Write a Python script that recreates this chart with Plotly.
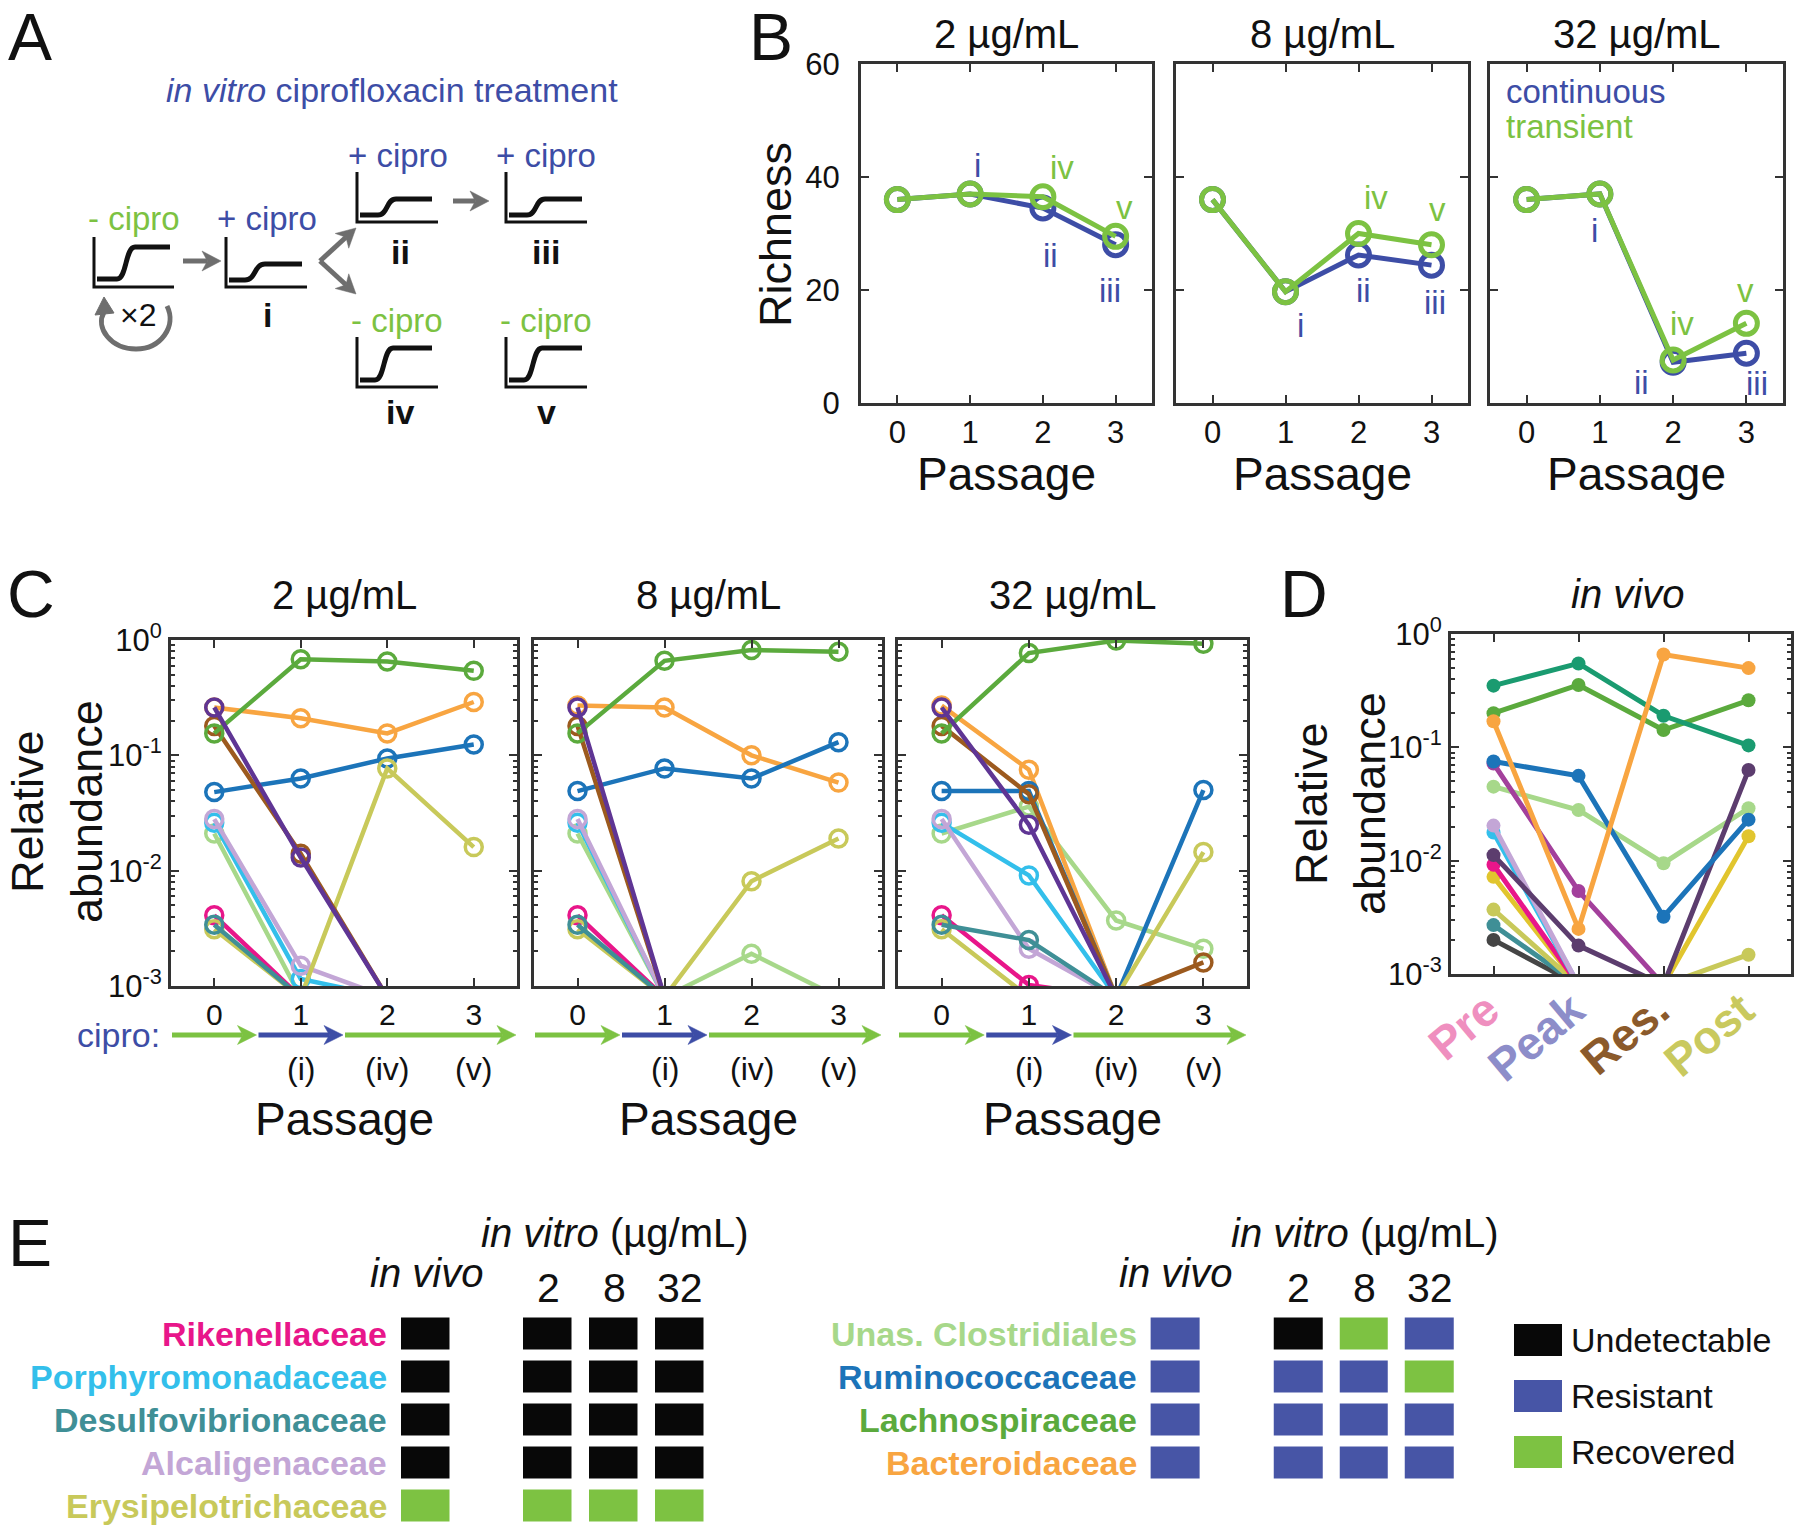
import math
import plotly.graph_objects as go

W, H = 1800, 1534
FONT = "Liberation Sans, Arial, Helvetica, sans-serif"
INK = "#111111"
FRAME = "#333333"


def fx(px):
    return px / W


def fy(py):
    return 1 - py / H


# ========================= DATA =========================
passages = [0, 1, 2, 3]
passage_labels = ["0", "1", "2", "3"]
concentrations = ["2 µg/mL", "8 µg/mL", "32 µg/mL"]

# Panel B: richness
rich_cont_2 = [36, 37, 34.5, 28]
rich_trans_2 = [36, 37, 36.5, 29.5]
rich_cont_8 = [36, 19.7, 26.2, 24.4]
rich_trans_8 = [36, 19.7, 30, 28]
rich_cont_32 = [36, 37, 7.2, 8.8]
rich_trans_32 = [36, 37, 7.6, 14.1]
richness_ticks = [0, 20, 40, 60]

# Panel C: relative abundance in vitro (ND = undetectable, below 10^-3 floor)
ND = 8e-4
taxa_C = ["Unas. Clostridiales", "Porphyromonadaceae", "Alcaligenaceae", "Rikenellaceae",
          "Bacteroidaceae", "Ruminococcaceae", "Erysipelotrichaceae", "Desulfovibrionaceae",
          "Unlabeled (brown)", "Lachnospiraceae", "Unlabeled (purple)"]
abund_2 = [
    [0.021, ND, ND, ND],
    [0.026, 0.00115, ND, ND],
    [0.028, 0.0015, ND, ND],
    [0.0041, ND, ND, ND],
    [0.26, 0.21, 0.155, 0.29],
    [0.048, 0.063, 0.094, 0.124],
    [0.0031, ND, 0.077, 0.016],
    [0.0034, ND, ND, ND],
    [0.18, 0.014, ND, ND],
    [0.155, 0.68, 0.65, 0.54],
    [0.26, 0.013, ND, ND],
]
abund_8 = [
    [0.021, ND, 0.0019, ND],
    [0.026, ND, ND, ND],
    [0.028, ND, ND, ND],
    [0.0041, ND, ND, ND],
    [0.27, 0.26, 0.10, 0.058],
    [0.049, 0.077, 0.063, 0.13],
    [0.0031, ND, 0.0081, 0.019],
    [0.0034, ND, ND, ND],
    [0.18, ND, ND, ND],
    [0.155, 0.66, 0.82, 0.79],
    [0.26, ND, ND, ND],
]
abund_32 = [
    [0.021, 0.036, 0.0037, 0.0021],
    [0.026, 0.0091, ND, ND],
    [0.028, 0.0021, ND, ND],
    [0.0041, 0.00102, ND, ND],
    [0.27, 0.075, ND, ND],
    [0.049, 0.049, ND, 0.05],
    [0.0031, ND, ND, 0.0145],
    [0.0034, 0.0025, ND, ND],
    [0.18, 0.046, ND, 0.0016],
    [0.155, 0.77, 0.99, 0.93],
    [0.26, 0.025, ND, ND],
]
cipro_segments = [(-0.5, 0.5, False), (0.5, 1.5, True), (1.5, 3.5, False)]
sample_roman = {1: "(i)", 2: "(iv)", 3: "(v)"}

# Panel D: in vivo
timepoints = ["Pre", "Peak", "Res.", "Post"]
taxa_D = ["Unlabeled (gray)", "Desulfovibrionaceae", "Erysipelotrichaceae", "Unlabeled (yellow)",
          "Rikenellaceae", "Porphyromonadaceae", "Alcaligenaceae", "Unas. Clostridiales",
          "Unlabeled (violet)", "Unlabeled (plum)", "Ruminococcaceae", "Lachnospiraceae",
          "Unlabeled (teal)", "Bacteroidaceae"]
abund_D = [
    [0.0020, ND, ND, ND],
    [0.0027, ND, ND, ND],
    [0.0037, ND, ND, 0.00148],
    [0.0072, ND, ND, 0.0164],
    [0.0092, ND, ND, ND],
    [0.0177, ND, ND, ND],
    [0.0204, ND, ND, ND],
    [0.045, 0.028, 0.0095, 0.029],
    [0.072, 0.0054, ND, ND],
    [0.0112, 0.00178, ND, 0.063],
    [0.075, 0.056, 0.0032, 0.023],
    [0.20, 0.355, 0.142, 0.26],
    [0.35, 0.55, 0.19, 0.104],
    [0.17, 0.0025, 0.66, 0.50],
]
abund_ticks = [1e-3, 1e-2, 1e-1, 1]
abund_ticktext = ["10<sup>-3</sup>", "10<sup>-2</sup>", "10<sup>-1</sup>", "10<sup>0</sup>"]

# Panel E: status 0 = Undetectable, 1 = Resistant, 2 = Recovered
status_names = ["Undetectable", "Resistant", "Recovered"]
vitro_conc = ["2", "8", "32"]
e_left_taxa = ["Rikenellaceae", "Porphyromonadaceae", "Desulfovibrionaceae",
               "Alcaligenaceae", "Erysipelotrichaceae"]
e_left_invivo = [0, 0, 0, 0, 2]
e_left_2 = [0, 0, 0, 0, 2]
e_left_8 = [0, 0, 0, 0, 2]
e_left_32 = [0, 0, 0, 0, 2]
e_right_taxa = ["Unas. Clostridiales", "Ruminococcaceae", "Lachnospiraceae", "Bacteroidaceae"]
e_right_invivo = [1, 1, 1, 1]
e_right_2 = [0, 1, 1, 1]
e_right_8 = [2, 1, 1, 1]
e_right_32 = [1, 2, 1, 1]

# ========================= STYLE =========================
BLUE = "#3D4DA6"
GREEN = "#7CC242"
GRAY_ARROW = "#6E6E6E"
taxon_colors = {
    "Lachnospiraceae": "#5BAA3D",
    "Bacteroidaceae": "#F8A541",
    "Ruminococcaceae": "#1C74B9",
    "Erysipelotrichaceae": "#C8C95A",
    "Unlabeled (purple)": "#5F3594",
    "Unlabeled (brown)": "#9C5A1E",
    "Alcaligenaceae": "#C3A6D6",
    "Porphyromonadaceae": "#33BFEB",
    "Unas. Clostridiales": "#A7D88A",
    "Rikenellaceae": "#E8168A",
    "Desulfovibrionaceae": "#3F8F96",
    "Unlabeled (teal)": "#1A9B70",
    "Unlabeled (violet)": "#A3409C",
    "Unlabeled (plum)": "#5C3D6E",
    "Unlabeled (yellow)": "#E1C52E",
    "Unlabeled (gray)": "#454545",
}
status_colors = ["#080808", "#4755A6", "#7DC242"]
timepoint_colors = ["#EF8FBF", "#8D8DC9", "#8B5A2B", "#C9C95E"]

fig = go.Figure()
layout = dict(
    width=W, height=H, template="none",
    margin=dict(l=0, r=0, t=0, b=0, pad=0),
    paper_bgcolor="white", plot_bgcolor="rgba(0,0,0,0)",
    font=dict(family=FONT, color=INK),
    showlegend=False,
)
annotations = []
shapes = []


def frame_axis(**kw):
    d = dict(showline=True, linewidth=3, linecolor=FRAME, mirror="ticks",
             ticks="inside", ticklen=8, tickwidth=2, tickcolor=FRAME,
             showgrid=False, zeroline=False, automargin=False, fixedrange=True)
    d.update(kw)
    return d


def text(x, y, s, size, color=INK, xanchor="center", xref="paper", yref="paper", angle=0, **kw):
    annotations.append(dict(x=x, y=y, xref=xref, yref=yref, text=s, showarrow=False,
                            font=dict(size=size, color=color, family=FONT),
                            xanchor=xanchor, yanchor="middle", textangle=angle, **kw))


def P(x, y):
    return f"{fx(x):.5f},{fy(y):.5f}"


def arrow(xa, ya, xb, yb, color, width=5, hl=19, hw=20):
    """Straight arrow in page pixels with a swept (notched) filled head."""
    L = math.hypot(xb - xa, yb - ya)
    ux, uy = (xb - xa) / L, (yb - ya) / L
    nx, ny = -uy, ux
    bx, by = xb - ux * hl, yb - uy * hl
    mx, my = xb - ux * hl * 0.72, yb - uy * hl * 0.72
    shapes.append(dict(type="line", xref="paper", yref="paper",
                       x0=fx(xa), y0=fy(ya), x1=fx(mx), y1=fy(my),
                       line=dict(color=color, width=width)))
    shapes.append(dict(type="path", xref="paper", yref="paper",
                       path=(f"M {P(xb, yb)} L {P(bx + nx * hw / 2, by + ny * hw / 2)} "
                             f"L {P(mx, my)} L {P(bx - nx * hw / 2, by - ny * hw / 2)} Z"),
                       line=dict(color=color, width=0.5), fillcolor=color))


# ========================= PANEL LETTERS =========================
for letter, (px, py) in {"A": (30, 37), "B": (771, 37), "C": (31, 594),
                         "D": (1304, 594), "E": (30, 1243)}.items():
    text(fx(px), fy(py), letter, 66)

# ========================= PANEL A (schematic) =========================


def icon(x0, ytop, ybot, x1, flat, rs, re, plat, xe):
    shapes.append(dict(type="path", xref="paper", yref="paper",
                       path=f"M {P(x0, ytop)} L {P(x0, ybot)} L {P(x1, ybot)}",
                       line=dict(color="#111", width=3), fillcolor="rgba(0,0,0,0)"))
    d = re - rs
    shapes.append(dict(type="path", xref="paper", yref="paper",
                       path=(f"M {P(x0 + 3, flat)} L {P(rs, flat)} "
                             f"C {P(rs + d * 0.55, flat)} {P(re - d * 0.55, plat)} {P(re, plat)} "
                             f"L {P(xe, plat)}"),
                       line=dict(color="#111", width=5), fillcolor="rgba(0,0,0,0)"))


icon(94, 237, 287, 174, 279, 117, 135, 247, 170)
icon(226, 237, 287, 307, 280, 245, 265, 264, 302)
icon(357, 172, 222, 438, 215, 378, 396, 199, 432)
icon(506, 172, 222, 587, 215, 527, 545, 199, 582)
icon(357, 337, 387, 438, 380, 375, 393, 348, 432)
icon(506, 337, 387, 587, 380, 524, 542, 348, 582)

text(fx(392), fy(90), "<i>in vitro</i> ciprofloxacin treatment", 34, BLUE)
text(fx(134), fy(218), "- cipro", 33, GREEN)
text(fx(267), fy(218), "+ cipro", 33, BLUE)
text(fx(398), fy(155), "+ cipro", 33, BLUE)
text(fx(546), fy(155), "+ cipro", 33, BLUE)
text(fx(397), fy(320), "- cipro", 33, GREEN)
text(fx(546), fy(320), "- cipro", 33, GREEN)
for s, (px, py) in {"i": (267, 315), "ii": (400, 252), "iii": (546, 252),
                    "iv": (400, 412), "v": (546, 412)}.items():
    text(fx(px), fy(py), f"<b>{s}</b>", 34)
text(fx(138), fy(315), "×2", 32)

arrow(183, 261, 221, 261, GRAY_ARROW)
arrow(453, 201, 489, 201, GRAY_ARROW)
arrow(320, 261, 356, 228, GRAY_ARROW)
arrow(320, 261, 356, 294, GRAY_ARROW)
# circular "x2" arrow
shapes.append(dict(type="path", xref="paper", yref="paper",
                   path=(f"M {P(167, 306)} C {P(177, 326)} {P(161, 349)} {P(136, 349)} "
                         f"C {P(111, 349)} {P(95, 328)} {P(104, 312)}"),
                   line=dict(color=GRAY_ARROW, width=5), fillcolor="rgba(0,0,0,0)"))
shapes.append(dict(type="path", xref="paper", yref="paper",
                   path=f"M {P(104, 297)} L {P(95, 315)} L {P(114, 313)} Z",
                   line=dict(color=GRAY_ARROW, width=1), fillcolor=GRAY_ARROW))

# ========================= PANEL B =========================
B_x = [(861, 1152), (1176, 1468), (1490, 1783)]
B_y = (64, 403)
B_data = [(rich_cont_2, rich_trans_2), (rich_cont_8, rich_trans_8), (rich_cont_32, rich_trans_32)]
B_roman = [
    [("i", 1.1, 42, BLUE), ("iv", 2.26, 41.6, GREEN), ("ii", 2.1, 26.1, BLUE),
     ("iii", 2.92, 19.9, BLUE), ("v", 3.12, 34.6, GREEN)],
    [("iv", 2.24, 36.4, GREEN), ("v", 3.08, 34.3, GREEN), ("i", 1.2, 13.8, BLUE),
     ("ii", 2.07, 19.9, BLUE), ("iii", 3.05, 17.8, BLUE)],
    [("i", 0.92, 30.5, BLUE), ("iv", 2.12, 14.1, GREEN), ("v", 2.99, 19.9, GREEN),
     ("ii", 1.57, 3.7, BLUE), ("iii", 3.15, 3.5, BLUE)],
]
for i, ((x0, x1), (cont, trans)) in enumerate(zip(B_x, B_data)):
    n = 2 + i
    layout[f"xaxis{n}"] = frame_axis(domain=[fx(x0), fx(x1)], range=[-0.5, 3.5], anchor=f"y{n}",
                                     tickvals=passages, ticktext=passage_labels,
                                     tickfont=dict(size=31))
    layout[f"yaxis{n}"] = frame_axis(domain=[fy(B_y[1]), fy(B_y[0])], range=[0, 60], anchor=f"x{n}",
                                     tickvals=richness_ticks, showticklabels=(i == 0),
                                     tickfont=dict(size=31), ticklabelstandoff=12)
    for ys, col in [(cont, BLUE), (trans, GREEN)]:
        fig.add_trace(go.Scatter(x=passages, y=ys, mode="lines+markers", xaxis=f"x{n}", yaxis=f"y{n}",
                                 line=dict(color=col, width=5),
                                 marker=dict(symbol="circle-open", size=22, color=col,
                                             line=dict(width=5, color=col)),
                                 hoverinfo="skip"))
    for s, xv, yv, col in B_roman[i]:
        text(xv, yv, s, 33, col, xref=f"x{n}", yref=f"y{n}")
    cx = (x0 + x1) / 2
    text(fx(cx), fy(34), concentrations[i], 40)
    text(fx(cx), fy(474), "Passage", 46)
text(fx(776), fy(235), "Richness", 45, angle=-90)
text(fx(1504), fy(92), "continuous", 33, BLUE, xanchor="left")
text(fx(1504), fy(126), "transient", 33, GREEN, xanchor="left")

# ========================= PANEL C & D axes =========================
minor_vals = [m * 10 ** e for e in (-3, -2, -1) for m in range(2, 10)]


def log_axis(dom, anchor, show):
    return frame_axis(domain=dom, type="log", range=[-3, 0], anchor=anchor,
                      tickvals=abund_ticks, ticktext=abund_ticktext, showticklabels=show,
                      tickfont=dict(size=31),
                      minor=dict(ticks="inside", ticklen=4, tickwidth=1.5, tickcolor=FRAME,
                                 tickvals=minor_vals, showgrid=False))


C_x = [(171, 517), (534, 882), (898, 1247)]
C_y = (640, 986)
C_data = [abund_2, abund_8, abund_32]
for i, ((x0, x1), data) in enumerate(zip(C_x, C_data)):
    n = 5 + i
    layout[f"xaxis{n}"] = frame_axis(domain=[fx(x0), fx(x1)], range=[-0.5, 3.5], anchor=f"y{n}",
                                     tickvals=passages, ticktext=passage_labels,
                                     tickfont=dict(size=30))
    layout[f"yaxis{n}"] = log_axis([fy(C_y[1]), fy(C_y[0])], f"x{n}", i == 0)
    for name, ys in zip(taxa_C, data):
        col = taxon_colors[name]
        fig.add_trace(go.Scatter(x=passages, y=ys, mode="lines+markers", xaxis=f"x{n}", yaxis=f"y{n}",
                                 name=name, line=dict(color=col, width=4.5),
                                 marker=dict(symbol="circle-open", size=17, color=col,
                                             line=dict(width=3.5, color=col)),
                                 hoverinfo="skip"))
    unit = (x1 - x0) / 4

    def to_px(v):
        return x0 + (v + 0.5) * unit

    for a, b, on in cipro_segments:
        arrow(to_px(a) + 1, 1035, to_px(b) - 1, 1035, BLUE if on else GREEN, width=5, hl=19, hw=19)
    for p, lab in sample_roman.items():
        text(p, fy(1069), lab, 32, xref=f"x{n}")
    cx = (x0 + x1) / 2
    text(fx(cx), fy(595), concentrations[i], 40)
    text(fx(cx), fy(1119), "Passage", 46)
text(fx(118), fy(1035), "cipro:", 34, BLUE)
text(fx(28), fy(812), "Relative", 45, angle=-90)
text(fx(87), fy(812), "abundance", 45, angle=-90)

# Panel D
D_x = (1451, 1791)
D_y = (634, 974)
layout["xaxis8"] = frame_axis(domain=[fx(D_x[0]), fx(D_x[1])], range=[-0.5, 3.5], anchor="y8",
                              tickvals=list(range(len(timepoints))),
                              ticktext=[f'<span style="color:{c}"><b>{t}</b></span>'
                                        for t, c in zip(timepoints, timepoint_colors)],
                              tickangle=-40, tickfont=dict(size=46),
                              ticklabelstandoff=-12, ticklabelshift=-6)
layout["yaxis8"] = log_axis([fy(D_y[1]), fy(D_y[0])], "x8", True)
for name, ys in zip(taxa_D, abund_D):
    col = taxon_colors[name]
    fig.add_trace(go.Scatter(x=list(range(len(timepoints))), y=ys, mode="lines+markers",
                             xaxis="x8", yaxis="y8", name=name,
                             line=dict(color=col, width=5),
                             marker=dict(symbol="circle", size=14, color=col),
                             hoverinfo="skip"))
text(fx(1627), fy(594), "<i>in vivo</i>", 40)
text(fx(1312), fy(804), "Relative", 45, angle=-90)
text(fx(1370), fy(804), "abundance", 45, angle=-90)

# ========================= PANEL E =========================
cscale = [[0, status_colors[0]], [1 / 3, status_colors[0]], [1 / 3, status_colors[1]],
          [2 / 3, status_colors[1]], [2 / 3, status_colors[2]], [1, status_colors[2]]]


def hidden_axis(**kw):
    d = dict(showline=False, showgrid=False, zeroline=False, showticklabels=False,
             ticks="", automargin=False, fixedrange=True)
    d.update(kw)
    return d


def heat(n, z, xdom, ydom, xgap, ygap):
    ncol = len(z[0])
    nrow = len(z)
    layout[f"xaxis{n}"] = hidden_axis(domain=[fx(xdom[0]), fx(xdom[1])], range=[-0.5, ncol - 0.5],
                                      anchor=f"y{n}")
    layout[f"yaxis{n}"] = hidden_axis(domain=[fy(ydom[1]), fy(ydom[0])], range=[nrow - 0.5, -0.5],
                                      anchor=f"x{n}")
    fig.add_trace(go.Heatmap(z=z, x=list(range(ncol)), y=list(range(nrow)), xaxis=f"x{n}",
                             yaxis=f"y{n}", colorscale=cscale, zmin=-0.5, zmax=2.5,
                             showscale=False, xgap=xgap, ygap=ygap, hoverinfo="skip"))


LEFT_Y = (1312.5, 1527.5)
RIGHT_Y = (1312.5, 1484.5)
heat(9, [[v] for v in e_left_invivo], (393, 459), LEFT_Y, 17.5, 11)
heat(10, [list(r) for r in zip(e_left_2, e_left_8, e_left_32)], (515, 713), LEFT_Y, 17.5, 11)
heat(11, [[v] for v in e_right_invivo], (1142.6, 1208.6), RIGHT_Y, 17, 11)
heat(12, [list(r) for r in zip(e_right_2, e_right_8, e_right_32)], (1265.7, 1462.8), RIGHT_Y, 17, 11)
heat(13, [[0], [1], [2]], (1505, 1571), (1312, 1480), 18, 24)

for j, name in enumerate(e_left_taxa):
    text(fx(389), j, f"<b>{name}</b>", 34, taxon_colors[name], xanchor="right", yref="y9")
for j, name in enumerate(e_right_taxa):
    text(fx(1139), j, f"<b>{name}</b>", 34, taxon_colors[name], xanchor="right", yref="y11")
for j, name in enumerate(status_names):
    text(fx(1569), j, name, 34, xanchor="left", yref="y13")
for xa in ("x10", "x12"):
    for k, c in enumerate(vitro_conc):
        text(k, fy(1288), c, 41, xref=xa)
text(fx(615), fy(1233), "<i>in vitro</i> (µg/mL)", 40)
text(fx(426), fy(1273), "<i>in vivo</i>", 40)
text(fx(1365), fy(1233), "<i>in vitro</i> (µg/mL)", 40)
text(fx(1175), fy(1273), "<i>in vivo</i>", 40)

layout["annotations"] = annotations
layout["shapes"] = shapes
fig.update_layout(**layout)
fig.write_html("out.html", config={"displayModeBar": False},
               post_script="document.body.style.margin='0px';")
